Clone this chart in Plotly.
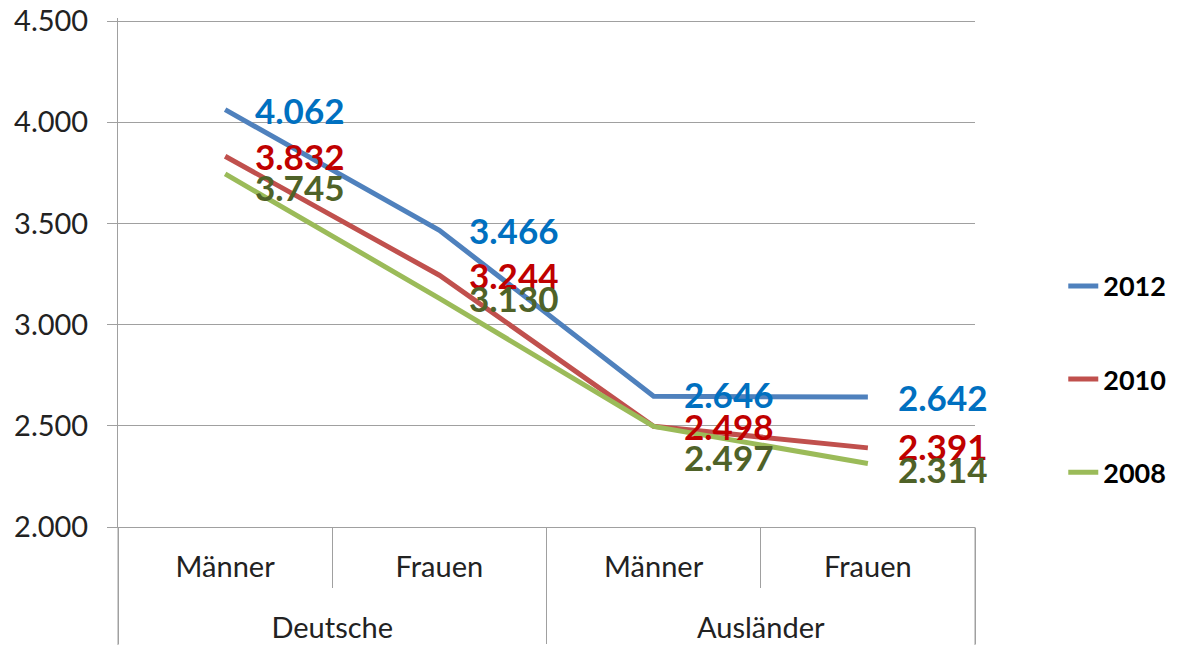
import plotly.graph_objects as go

groups = ["Deutsche", "Deutsche", "Ausländer", "Ausländer"]
sexes = ["Männer", "Frauen", "Männer", "Frauen"]

years = ["2012", "2010", "2008"]
v2012 = [4062, 3466, 2646, 2642]
v2010 = [3832, 3244, 2498, 2391]
v2008 = [3745, 3130, 2497, 2314]

y_ticks = [2000, 2500, 3000, 3500, 4000, 4500]

series = [v2012, v2010, v2008]
line_colors = ["#4F81BD", "#C0504D", "#9BBB59"]
label_colors = ["#0070C0", "#C00000", "#4F6228"]
# vertical pixel nudges of the data labels (Excel auto-placement)
label_yshift = [
    [0, 0, 2, 0],
    [0, 0, 0, 2],
    [-13, 0, -31, -6],
]

FONT = "Lato"
GRID = "#A0A0A0"

fig = go.Figure()
for i, (name, vals) in enumerate(zip(years, series)):
    fig.add_trace(go.Scatter(
        x=[[f"<br>{g}" for g in groups], sexes], y=vals, mode="lines", name=name,
        legendgroup=name,
        line=dict(color=line_colors[i], width=5),
        hoverinfo="skip",
    ))
    for j, v in enumerate(vals):
        fig.add_annotation(
            x=j, y=v, xref="x", yref="y",
            text=f"{v:,}".replace(",", "."),
            showarrow=False, xanchor="left", yanchor="middle",
            xshift=28, yshift=label_yshift[i][j],
            font=dict(family=FONT, size=35, color=label_colors[i], weight="bold"),
        )

# category-axis frame lines at both ends, running down through the label rows
for xp in (0, 1):
    fig.add_shape(type="line", xref="paper", yref="paper",
                  x0=xp, x1=xp, y0=0, y1=-0.25,
                  line=dict(color=GRID, width=1))

fig.update_layout(
    width=1172, height=637,
    margin=dict(l=110, r=205, t=10, b=118, autoexpand=False),
    paper_bgcolor="white", plot_bgcolor="white",
    separators=",.",
    font=dict(family=FONT, color="#333333"),
    showlegend=True,
    legend=dict(
        x=1.103, xanchor="left", y=0.29, yanchor="middle",
        font=dict(family=FONT, size=27, color="black", weight="bold"),
        tracegroupgap=55, bgcolor="rgba(0,0,0,0)",
    ),
)
fig.update_xaxes(
    type="multicategory", automargin=False, range=[-0.5, 3.5],
    showline=True, linecolor=GRID, linewidth=1,
    showgrid=False,
    ticks="outside", ticklen=60, tickcolor=GRID,
    ticklabelstandoff=14,
    showdividers=True, dividercolor=GRID, dividerwidth=1,
    tickfont=dict(family=FONT, size=29, color="#222222"),
)
fig.update_yaxes(
    range=[2000, 4515], tickvals=y_ticks, tickformat=",d", automargin=False,
    showline=True, linecolor=GRID, linewidth=1,
    showgrid=True, gridcolor=GRID, gridwidth=1,
    ticks="outside", ticklen=10, tickcolor=GRID,
    ticklabelstandoff=13, ticklabeloverflow="allow",
    tickfont=dict(family=FONT, size=29, color="#222222"),
    zeroline=False,
)

fig.write_html("out.html")
